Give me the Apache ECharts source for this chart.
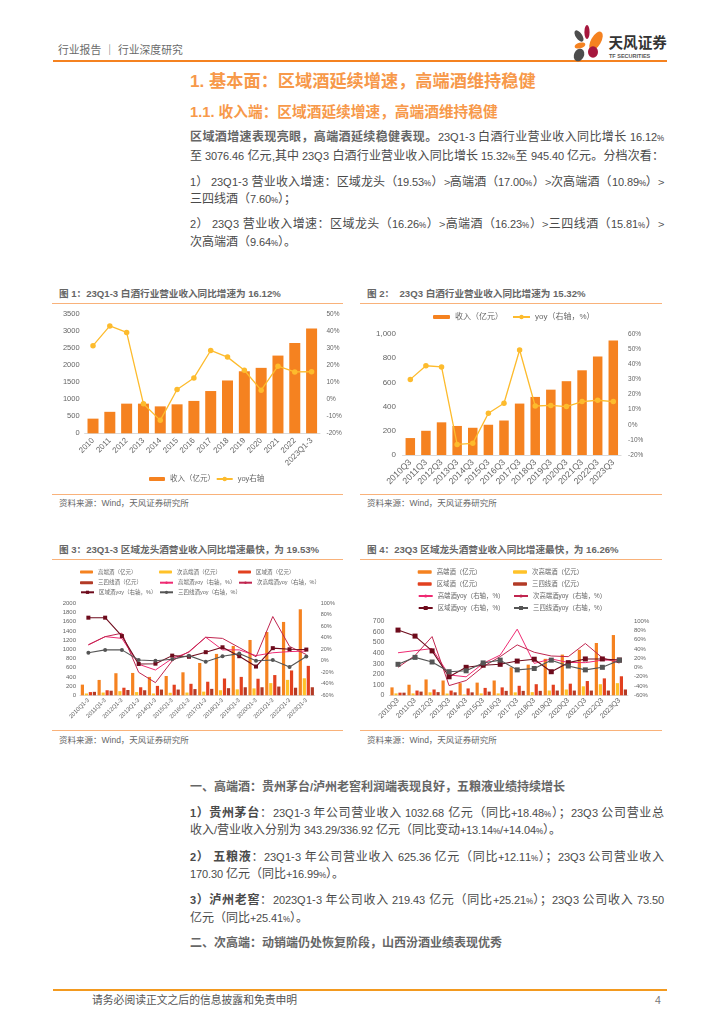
<!DOCTYPE html>
<html><head><meta charset="utf-8">
<script src="https://cdn.jsdelivr.net/npm/echarts@6/dist/echarts.min.js"></script>
<style>
@font-face{font-family:Pct;src:local("Liberation Sans");unicode-range:U+25;size-adjust:68%;font-weight:normal}
@font-face{font-family:Pct;src:local("Liberation Sans Bold");unicode-range:U+25;size-adjust:68%;font-weight:bold}
@font-face{font-family:Lat;src:local("Liberation Sans");unicode-range:U+20-7E;size-adjust:95%;font-weight:normal}
@font-face{font-family:Lat;src:local("Liberation Sans Bold");unicode-range:U+20-7E;size-adjust:95%;font-weight:bold}
html,body{margin:0;padding:0;background:#fff;width:724px;height:1024px;overflow:hidden}
body{position:relative;font-family:"Liberation Sans","Noto Sans CJK SC",sans-serif;color:#4a4a4a}
.t{position:absolute;white-space:nowrap;line-height:16px}
.b{position:absolute;left:190px;width:474px;font-size:12px;line-height:16px;white-space:nowrap;font-family:Pct,Lat,"Noto Sans CJK SC",sans-serif}
.j{text-align:justify;text-align-last:justify;white-space:normal}
.r{position:absolute}
.fig{font-size:9.6px;font-weight:bold;color:#666}
.src{font-size:8.5px;color:#666}
.c{position:absolute}
</style></head><body>
<div class="t" style="left:58px;top:42px;font-size:10.8px;color:#6a6a6a">行业报告 ｜ 行业深度研究</div>
<div class="r" style="left:53px;top:60px;width:614px;height:1.6px;background:#f58220"></div>
<svg class="r" style="left:565px;top:22px" width="110" height="42" viewBox="565 22 110 42">
<ellipse cx="579" cy="36" rx="3.2" ry="6.5" transform="rotate(-35 579 36)" fill="#4d4d4d"/>
<ellipse cx="587" cy="32" rx="2.6" ry="7" fill="#a6173d"/>
<ellipse cx="596" cy="41" rx="5" ry="10.5" transform="rotate(30 596 41)" fill="#f58220"/>
<ellipse cx="580" cy="45.5" rx="5.5" ry="2.8" transform="rotate(-15 580 45.5)" fill="#f58220"/>
<ellipse cx="593" cy="52" rx="5" ry="5.8" fill="#a6173d"/>
<ellipse cx="579" cy="55" rx="5" ry="6.5" transform="rotate(25 579 55)" fill="#4d4d4d"/>
<text x="608.5" y="48" font-size="14.6" font-weight="bold" fill="#333" font-family="Noto Sans CJK SC">天风证券</text>
<text x="609" y="58" font-size="5.5" font-weight="bold" fill="#555" font-family="Liberation Sans">TF SECURITIES</text>
</svg>
<div class="t" style="left:190px;top:73px;font-size:17.2px;font-weight:bold;color:#f7994a">1. 基本面：区域酒延续增速，高端酒维持稳健</div>
<div class="t" style="left:190px;top:104px;font-size:14.7px;font-weight:bold;color:#f7994a">1.1. 收入端：区域酒延续增速，高端酒维持稳健</div>

<div class="b j" style="top:129px"><b style="color:#666">区域酒增速表现亮眼，高端酒延续稳健表现。</b>23Q1-3 白酒行业营业收入同比增长 16.12%</div>
<div class="b j" style="top:148px">至 3076.46 亿元,其中 23Q3 白酒行业营业收入同比增长 15.32%至 945.40 亿元。分档次看：</div>
<div class="b j" style="top:174px">1） 23Q1-3 营业收入增速：区域龙头（19.53%）&gt;高端酒（17.00%）&gt;次高端酒（10.89%）&gt;</div>
<div class="b" style="top:191px">三四线酒（7.60%）；</div>
<div class="b j" style="top:216px">2） 23Q3 营业收入增速：区域龙头（16.26%）&gt;高端酒（16.23%）&gt;三四线酒（15.81%）&gt;</div>
<div class="b" style="top:234px">次高端酒（9.64%）。</div>

<div class="t fig" style="left:59px;top:286px">图 1：23Q1-3 白酒行业营业收入同比增速为 16.12%</div>
<div class="r" style="left:52px;top:303px;width:291px;height:1px;background:#f9b27a"></div>
<div class="r" style="left:52px;top:494px;width:291px;height:1px;background:#f9b27a"></div>
<div class="t src" style="left:59px;top:495px">资料来源：Wind，天风证券研究所</div>

<div class="t fig" style="left:367px;top:286px">图 2：&nbsp; 23Q3 白酒行业营业收入同比增速为 15.32%</div>
<div class="r" style="left:360px;top:303px;width:302px;height:1px;background:#f9b27a"></div>
<div class="r" style="left:360px;top:494px;width:302px;height:1px;background:#f9b27a"></div>
<div class="t src" style="left:367px;top:495px">资料来源：Wind，天风证券研究所</div>

<div class="t fig" style="left:59px;top:542px">图 3：23Q1-3 区域龙头酒营业收入同比增速最快，为 19.53%</div>
<div class="r" style="left:52px;top:559px;width:291px;height:1px;background:#f9b27a"></div>
<div class="r" style="left:52px;top:730px;width:291px;height:1px;background:#f9b27a"></div>
<div class="t src" style="left:59px;top:732px">资料来源：Wind，天风证券研究所</div>

<div class="t fig" style="left:367px;top:542px">图 4：23Q3 区域龙头酒营业收入同比增速最快，为 16.26%</div>
<div class="r" style="left:360px;top:559px;width:302px;height:1px;background:#f9b27a"></div>
<div class="r" style="left:360px;top:730px;width:302px;height:1px;background:#f9b27a"></div>
<div class="t src" style="left:367px;top:732px">资料来源：Wind，天风证券研究所</div>

<div id="c1" class="c" style="left:50px;top:305px;width:300px;height:188px"></div>
<div id="c2" class="c" style="left:360px;top:305px;width:300px;height:188px"></div>
<div id="c3" class="c" style="left:50px;top:561px;width:300px;height:168px"></div>
<div id="c4" class="c" style="left:360px;top:561px;width:300px;height:168px"></div>

<div class="b" style="top:779px"><b style="color:#666">一、高端酒：贵州茅台/泸州老窖利润端表现良好，五粮液业绩持续增长</b></div>
<div class="b j" style="top:805px"><b>1）贵州茅台</b>：23Q1-3 年公司营业收入 1032.68 亿元（同比+18.48%）；23Q3 公司营业总</div>
<div class="b" style="top:822px">收入/营业收入分别为 343.29/336.92 亿元（同比变动+13.14%/+14.04%）。</div>
<div class="b j" style="top:849px"><b>2） 五粮液</b>：23Q1-3 年公司营业收入 625.36 亿元（同比+12.11%）；23Q3 公司营业收入</div>
<div class="b" style="top:866px">170.30 亿元（同比+16.99%）。</div>
<div class="b j" style="top:892px"><b>3）泸州老窖</b>：2023Q1-3 年公司收入 219.43 亿元（同比+25.21%）；23Q3 公司收入 73.50</div>
<div class="b" style="top:910px">亿元（同比+25.41%）。</div>
<div class="b" style="top:935px"><b style="color:#666">二、次高端：动销端仍处恢复阶段，山西汾酒业绩表现优秀</b></div>

<div class="r" style="left:53px;top:989px;width:614px;height:1.6px;background:#f39a1f"></div>
<div class="t" style="left:92px;top:992px;font-size:10.8px;color:#555">请务必阅读正文之后的信息披露和免责申明</div>
<div class="t" style="left:655px;top:992px;font-size:10.5px;color:#777">4</div>

<script>
// ---- Figure 1 ----
const cats1 = ['2010','2011','2012','2013','2014','2015','2016','2017','2018','2019','2020','2021','2022','2023Q1-3'];
const rev1 = [430,630,870,870,790,850,950,1240,1550,1820,1920,2280,2650,3076.46];
const yoy1 = [31.4,43,39.2,-2.7,-12.4,5.7,12.5,28.6,24.7,17,5.3,19.4,16,16.12];
// ---- Figure 2 ----
const cats2 = ['2010Q3','2011Q3','2012Q3','2013Q3','2014Q3','2015Q3','2016Q3','2017Q3','2018Q3','2019Q3','2020Q3','2021Q3','2022Q3','2023Q3'];
const rev2 = [140,200,270,240,225,250,285,425,480,540,610,700,815,945.4];
const yoy2 = [30,39,38.2,-13,-12.3,7.6,14.2,49.4,12.4,12.8,12,15.3,16.2,15.32];
// ---- Figure 3 ----
const cats3 = ['2010Q1-3','2011Q1-3','2012Q1-3','2013Q1-3','2014Q1-3','2015Q1-3','2016Q1-3','2017Q1-3','2018Q1-3','2019Q1-3','2020Q1-3','2021Q1-3','2022Q1-3','2023Q1-3'];
const high3 = [232,334,480,486,400,420,500,703,900,1073,1203,1377,1595,1870];
const sub3 = [40,60,90,70,40,55,60,80,110,130,150,265,335,370];
const region3 = [70,110,165,175,205,230,250,295,365,400,360,440,540,640];
const low3 = [75,100,115,110,125,125,135,140,155,175,175,190,165,175];
const highYoy3 = [27.5,42,39,-6,-16,4,15,41,19,19,9,14,16,17];
const subYoy3 = [28,42,48,-20,-38,0,16,41,39,23,7,77,25,10.89];
const regionYoy3 = [75,75,43,-5.5,-5,9,7,15,23.5,8,-10,22,20,19.53];
const lowYoy3 = [14,19,19,1.5,0,2.6,9,-1.5,8,12.5,0,1.5,-10.7,7.6];
// ---- Figure 4 ----
const high4 = [75,100,150,140,115,120,140,265,290,345,385,430,495,570];
const sub4 = [18,18,28,17,8,18,18,28,30,45,55,85,105,115];
const region4 = [25,45,55,45,65,70,75,90,105,100,110,135,160,180];
const low4 = [25,35,30,28,28,35,42,42,42,45,45,45,45,55];
const highYoy4 = [32,36.6,41,-16,-20,9,27,83,9,18.6,11,10.6,16,16.23];
const subYoy4 = [0.5,26,67,-39,-28,2,23.6,49,33,25,23.6,52,21,9.64];
const regionYoy4 = [81,68,36,-20,0.5,5,7,14,18,-9,10.6,18.6,18.6,16.26];
const lowYoy4 = [7,22,12,-9,-7,10,16,-5,-2,16,3.4,-5,0.5,15.81];

const FONT = '"Liberation Sans","Noto Sans CJK SC",sans-serif';
const GREY = '#666';
const ORANGE='#f58220', YELLOW='#ffc229', RED='#e2401f', BROWN='#b23a26', PINK='#ef2a72', CRIM='#c0254f', MAROON='#6e0b1c', DARK='#555';

function legendAt(name, x, y, w, h, fs){
  return {data:[name], left:x, top:y-Math.max(h,fs)/2-1, itemWidth:w, itemHeight:h, padding:0, itemGap:0,
    selectedMode:false, textStyle:{fontSize:fs,color:GREY,fontFamily:FONT,padding:[0,0,0,0]}};
}
function axes(cats, lmax, lint, rmin, rmax, rint, o){
  return {
    xAxis:{type:'category',data:cats,boundaryGap:true,axisTick:{show:false},
      axisLine:{lineStyle:{color:'#d0d0d0',width:0.8}},
      axisLabel:{interval:0,rotate:45,fontSize:o.xfs,color:GREY,fontFamily:FONT,margin:o.xm}},
    yAxis:[
      {type:'value',min:0,max:lmax,interval:lint,splitLine:{show:false},axisLine:{show:false},axisTick:{show:false},
       axisLabel:{fontSize:o.lfs,color:GREY,fontFamily:FONT,margin:o.lm,formatter:o.lfmt||(v=>String(v))}},
      {type:'value',min:rmin,max:rmax,interval:rint,splitLine:{show:false},axisLine:{show:false},axisTick:{show:false},
       axisLabel:{fontSize:o.rfs,color:GREY,fontFamily:FONT,margin:o.rm,formatter:'{value}%'}}
    ]};
}
function bar(name,data,color,w,gap){return {name,type:'bar',data,barWidth:w,barGap:gap||0,itemStyle:{color},yAxisIndex:0};}
function line(name,data,color,lw,sym,size){return {name,type:'line',data,yAxisIndex:1,smooth:false,
  symbol:sym||'none',symbolSize:size||0,showSymbol:!!sym,lineStyle:{color,width:lw},itemStyle:{color}};}

function draw(id,opt){const c=echarts.init(document.getElementById(id));c.setOption(Object.assign({animation:false,textStyle:{fontFamily:FONT}},opt));}

// grid coordinates are relative to each figure's container
draw('c1',Object.assign({
  grid:{left:34.6,top:9,width:235.4,height:119.3},
  legend:[legendAt('收入（亿元）',99,175,16,4,7.5),legendAt('yoy右轴',165.7,175,16,5.5,7.5)],
  series:[bar('收入（亿元）',rev1,ORANGE,11),line('yoy右轴',yoy1,'#fdbb2d',1.3,'circle',5.5)]
},axes(cats1,3500,500,-20,50,10,{xfs:8,xm:6,lfs:7.5,lm:5,rfs:6.5,rm:6.5})));

draw('c2',Object.assign({
  grid:{left:42.5,top:29,width:218.6,height:121},
  legend:[legendAt('收入（亿元）',73,13,17,4,8),legendAt('yoy（右轴，%）',152,13,17,5.5,8)],
  series:[bar('收入（亿元）',rev2,ORANGE,9.5),line('yoy（右轴，%）',yoy2,'#fdbb2d',1.3,'circle',5.5)]
},axes(cats2,1000,200,-20,60,10,{xfs:8.8,xm:6,lfs:8,lm:6.5,rfs:6.5,rm:7,lfmt:v=>v>=1000?'1,000':String(v)})));

const names=['高端酒（亿元）','次高端酒（亿元）','区域酒（亿元）','三四线酒（亿元）','高端酒yoy（右轴，%）','次高端酒yoy（右轴，%）','区域酒yoy（右轴，%）','三四线酒yoy（右轴，%）'];
draw('c3',Object.assign({
  grid:{left:30,top:42.3,width:234.7,height:92},
  legend:[
    legendAt(names[0],30,12,13,3,5.5),legendAt(names[1],109,12,13,3,5.5),legendAt(names[2],188,12,13,3,5.5),
    legendAt(names[3],30,22.7,13,3,5.5),legendAt(names[4],109,22.7,13,3,5.5),legendAt(names[5],188,22.7,13,3,5.5),
    legendAt(names[6],30,32.3,13,4,5.5),legendAt(names[7],109,32.3,13,4,5.5)],
  series:[bar(names[0],high3,ORANGE,3.2,'25%'),bar(names[1],sub3,YELLOW,3.2,'25%'),bar(names[2],region3,RED,3.2,'25%'),bar(names[3],low3,BROWN,3.2,'25%'),
    line(names[4],highYoy3,PINK,1,null),line(names[5],subYoy3,CRIM,1,null),
    line(names[6],regionYoy3,MAROON,1.1,'rect',4),line(names[7],lowYoy3,DARK,1.1,'circle',4)]
},axes(cats3,2000,200,-60,100,20,{xfs:5.8,xm:4,lfs:6,lm:4,rfs:5.5,rm:6})));

draw('c4',Object.assign({
  grid:{left:29.5,top:60.3,width:238.4,height:74},
  legend:[
    legendAt(names[0],57.7,12,14,3.5,6.4),legendAt(names[1],153,12,14,3.5,6.4),
    legendAt(names[2],57.7,24,14,3.5,6.4),legendAt(names[3],153,24,14,3.5,6.4),
    legendAt(names[4],57.7,36,14,4,6.4),legendAt(names[5],153,36,14,4,6.4),
    legendAt(names[6],57.7,48,14,5,6.4),legendAt(names[7],153,48,14,5,6.4)],
  series:[bar(names[0],high4,ORANGE,3.2,'25%'),bar(names[1],sub4,YELLOW,3.2,'25%'),bar(names[2],region4,RED,3.2,'25%'),bar(names[3],low4,BROWN,3.2,'25%'),
    line(names[4],highYoy4,PINK,1,null),line(names[5],subYoy4,CRIM,1,null),
    line(names[6],regionYoy4,MAROON,1.1,'rect',5),line(names[7],lowYoy4,DARK,1.1,'rect',5)]
},axes(cats2,700,100,-60,100,20,{xfs:7.2,xm:4,lfs:7,lm:5,rfs:6,rm:6})));
</script>
</body></html>
